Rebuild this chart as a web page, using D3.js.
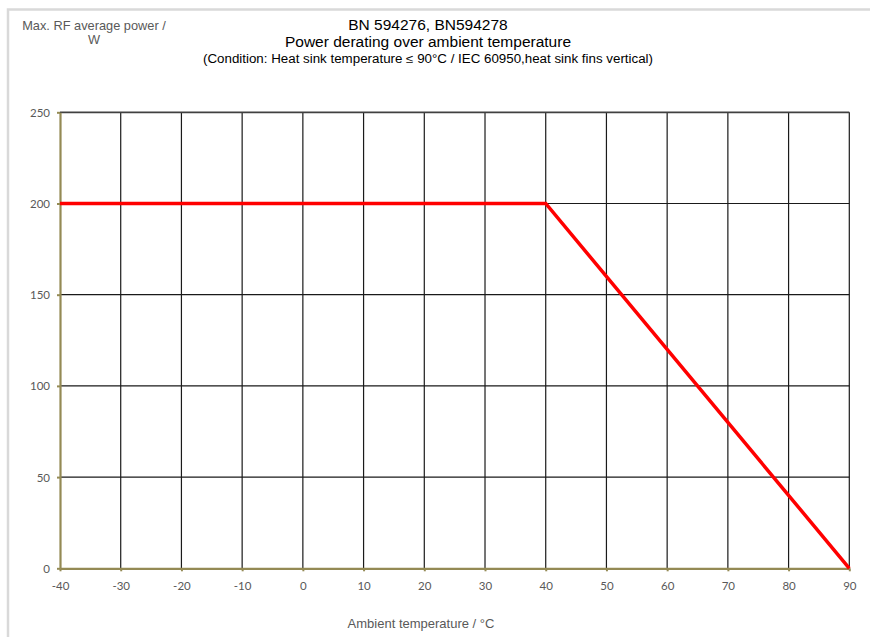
<!DOCTYPE html>
<html><head><meta charset="utf-8">
<script src="https://cdn.jsdelivr.net/npm/d3@7"></script>
<style>html,body{margin:0;padding:0;background:#fff;overflow:hidden}</style>
</head><body>
<script>
const xTicks = [-40,-30,-20,-10,0,10,20,30,40,50,60,70,80,90];
const yTicks = [0,50,100,150,200,250];
const temperature = [-40, 40, 90];
const power = [200, 200, 0];
const titleLines = ["BN 594276, BN594278","Power derating over ambient temperature","(Condition: Heat sink temperature \u2264 90\u00b0C / IEC 60950,heat sink fins vertical)"];
const yLabelLines = ["Max. RF average power /","W"];
const xLabel = "Ambient temperature / \u00b0C";

const W=870,H=637;
const svg=d3.select("body").append("svg").attr("width",W).attr("height",H);
svg.append("rect").attr("x",8).attr("y",9.5).attr("width",900).attr("height",700)
  .attr("fill","none").attr("stroke","#d9d9d9").attr("stroke-width",2.5);

const x=d3.scaleLinear().domain([-40,90]).range([60,849.3]);
const y=d3.scaleLinear().domain([0,250]).range([568.3,112.3]);

// gridlines
const g=svg.append("g");
g.selectAll(".vg").data(xTicks.slice(1)).enter().append("line")
 .attr("x1",d=>x(d)).attr("x2",d=>x(d)).attr("y1",y(250)).attr("y2",y(0))
 .attr("stroke","#1a1a1a").attr("stroke-width",1.2);
g.selectAll(".hg").data(yTicks.slice(1)).enter().append("line")
 .attr("x1",x(-40)).attr("x2",x(90)).attr("y1",d=>y(d)).attr("y2",d=>y(d))
 .attr("stroke",d=>d===250?"#404040":"#1a1a1a").attr("stroke-width",d=>d===250?1.8:1.2);

// axes
const axCol="#948a54";
const xa=svg.append("g").attr("transform",`translate(0,${y(0)})`)
 .call(d3.axisBottom(x).tickValues(xTicks).tickSize(3).tickSizeOuter(0).tickFormat(d=>String(d)));
const ya=svg.append("g").attr("transform",`translate(${x(-40)},0)`)
 .call(d3.axisLeft(y).tickValues(yTicks).tickSize(3).tickSizeOuter(0).tickFormat(d=>String(d)));
[xa,ya].forEach(a=>{
  a.select(".domain").attr("stroke",axCol).attr("stroke-width",2.2);
  a.selectAll(".tick line").attr("stroke",axCol).attr("stroke-width",2);
  a.selectAll(".tick text").attr("fill","#595959").style("font-family","Lato, 'Open Sans', sans-serif").style("font-size","11.5px");
});
xa.selectAll(".tick text").attr("dy","0").attr("y",22);
ya.selectAll(".tick text").attr("x",-10).attr("dy","0.35em");

// line
svg.append("path").datum(temperature.map((t,i)=>[t,power[i]]))
 .attr("d",d3.line().x(d=>x(d[0])).y(d=>y(d[1])))
 .attr("fill","none").attr("stroke","#ff0000").attr("stroke-width",3.5).attr("stroke-linejoin","miter");

// titles
const ff="'Liberation Sans', Arial, sans-serif";
svg.selectAll(".tt").data(titleLines).enter().append("text")
 .attr("x",428).attr("y",(d,i)=>[29.5,46.5,63][i]).attr("text-anchor","middle")
 .style("font-family",ff).style("font-size",(d,i)=>i<2?"15.5px":"12px").attr("fill","#000")
 .each(function(d,i){ if(i===2) d3.select(this).attr("textLength",450).attr("lengthAdjust","spacingAndGlyphs"); })
 .text(d=>d);
svg.selectAll(".yl").data(yLabelLines).enter().append("text")
 .attr("x",94).attr("y",(d,i)=>[30,43.5][i]).attr("text-anchor","middle")
 .style("font-family",ff).style("font-size","12.8px").attr("fill","#595959").text(d=>d);
svg.append("text").attr("x",421).attr("y",628).attr("text-anchor","middle")
 .style("font-family",ff).style("font-size","13px").attr("fill","#595959").text(xLabel);
</script>
</body></html>
